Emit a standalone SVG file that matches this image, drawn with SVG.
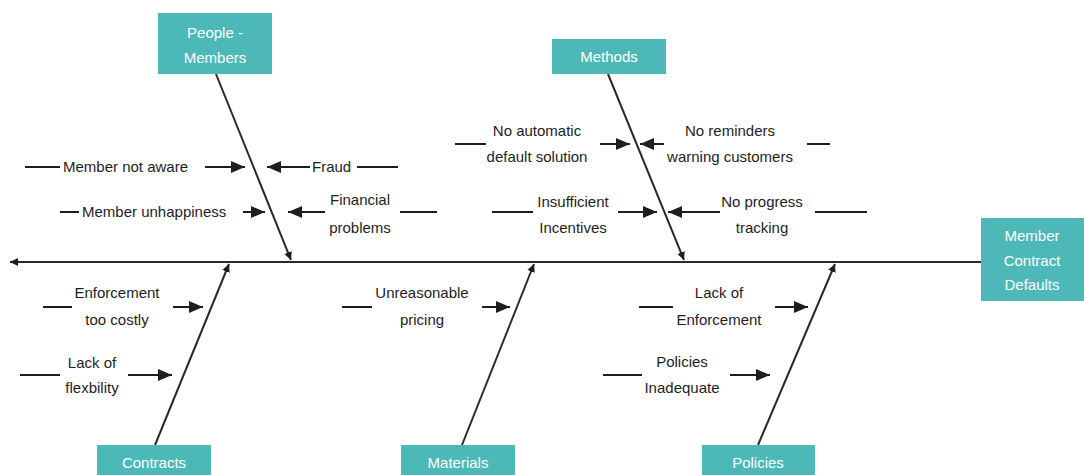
<svg xmlns="http://www.w3.org/2000/svg" width="1084" height="475" viewBox="0 0 1084 475">
<style>
.box{fill:#4cb8b8}
.bt{font-family:"Liberation Sans",Arial,sans-serif;font-size:15px;fill:#ffffff;text-anchor:middle}
.lt{font-family:"Liberation Sans",Arial,sans-serif;font-size:15px;fill:#1e1e1e}
.m{text-anchor:middle}
.ln{stroke:#1e1e1e;stroke-width:2;fill:none}
.ar{stroke:#1e1e1e;stroke-width:2;fill:none;marker-end:url(#arr)}
.bone{stroke:#2a2a2a;stroke-width:2;fill:none;marker-end:url(#sm)}
</style>
<defs>
<marker id="arr" markerUnits="userSpaceOnUse" markerWidth="16" markerHeight="12" refX="14" refY="6" orient="auto">
<path d="M0,0 L14,6 L0,12 Z" fill="#1e1e1e"/>
</marker>
<marker id="sm" markerUnits="userSpaceOnUse" markerWidth="10" markerHeight="8" refX="8" refY="4" orient="auto">
<path d="M0,0 L8,4 L0,8 Z" fill="#1e1e1e"/>
</marker>
</defs>
<rect width="1084" height="475" fill="#ffffff"/>

<g id="connectors">
<line class="bone" x1="981" y1="262" x2="10" y2="262"/>
<line class="bone" x1="216" y1="74" x2="291" y2="260"/>
<line class="bone" x1="608" y1="74" x2="684" y2="260"/>
<line class="bone" x1="155" y1="445" x2="229" y2="264"/>
<line class="bone" x1="462" y1="445" x2="534" y2="264"/>
<line class="bone" x1="758" y1="445" x2="835" y2="264"/>
</g>

<g id="people">
<rect class="box" x="158" y="13" width="114" height="61"/>
<text class="bt" x="215" y="38">People -</text>
<text class="bt" x="215" y="63">Members</text>
</g>
<g id="methods">
<rect class="box" x="552" y="39" width="114" height="35"/>
<text class="bt" x="609" y="62">Methods</text>
</g>
<g id="effect">
<rect class="box" x="981" y="218" width="103" height="83"/>
<text class="bt" x="1032" y="241">Member</text>
<text class="bt" x="1032" y="266">Contract</text>
<text class="bt" x="1032" y="290">Defaults</text>
</g>
<g id="contracts">
<rect class="box" x="97" y="445" width="114" height="35"/>
<text class="bt" x="154" y="468">Contracts</text>
</g>
<g id="materials">
<rect class="box" x="401" y="445" width="114" height="35"/>
<text class="bt" x="458" y="468">Materials</text>
</g>
<g id="policies">
<rect class="box" x="702" y="445" width="113" height="35"/>
<text class="bt" x="758" y="468">Policies</text>
</g>

<g id="cause-member-not-aware">
<line class="ln" x1="25" y1="167" x2="60" y2="167"/>
<text class="lt" x="63" y="172">Member not aware</text>
<line class="ar" x1="205" y1="167" x2="245" y2="167"/>
</g>
<g id="cause-fraud">
<line class="ar" x1="310" y1="167" x2="267" y2="167"/>
<text class="lt" x="312" y="172">Fraud</text>
<line class="ln" x1="357" y1="167" x2="398" y2="167"/>
</g>
<g id="cause-member-unhappiness">
<line class="ln" x1="60" y1="212" x2="79" y2="212"/>
<text class="lt" x="82" y="217">Member unhappiness</text>
<line class="ar" x1="243" y1="212" x2="265" y2="212"/>
</g>
<g id="cause-financial">
<line class="ar" x1="325" y1="212" x2="288" y2="212"/>
<text class="lt m" x="360" y="205">Financial</text>
<text class="lt m" x="360" y="233">problems</text>
<line class="ln" x1="400" y1="212" x2="437" y2="212"/>
</g>

<g id="cause-no-automatic">
<line class="ln" x1="455" y1="144" x2="486" y2="144"/>
<text class="lt m" x="537" y="136">No automatic</text>
<text class="lt m" x="537" y="162">default solution</text>
<line class="ar" x1="600" y1="144" x2="630" y2="144"/>
</g>
<g id="cause-no-reminders">
<line class="ar" x1="664" y1="144" x2="640" y2="144"/>
<text class="lt m" x="730" y="136">No reminders</text>
<text class="lt m" x="730" y="162">warning customers</text>
<line class="ln" x1="807" y1="144" x2="830" y2="144"/>
</g>
<g id="cause-insufficient">
<line class="ln" x1="492" y1="212" x2="533" y2="212"/>
<text class="lt m" x="573" y="207">Insufficient</text>
<text class="lt m" x="573" y="233">Incentives</text>
<line class="ar" x1="618" y1="212" x2="657" y2="212"/>
</g>
<g id="cause-no-progress">
<line class="ar" x1="720" y1="212" x2="668" y2="212"/>
<text class="lt m" x="762" y="207">No progress</text>
<text class="lt m" x="762" y="233">tracking</text>
<line class="ln" x1="815" y1="212" x2="867" y2="212"/>
</g>

<g id="cause-enforcement-costly">
<line class="ln" x1="43" y1="307" x2="72" y2="307"/>
<text class="lt m" x="117" y="298">Enforcement</text>
<text class="lt m" x="117" y="325">too costly</text>
<line class="ar" x1="173" y1="307" x2="203" y2="307"/>
</g>
<g id="cause-lack-flexibility">
<line class="ln" x1="20" y1="375" x2="60" y2="375"/>
<text class="lt m" x="92" y="368">Lack of</text>
<text class="lt m" x="92" y="393">flexbility</text>
<line class="ar" x1="128" y1="375" x2="172" y2="375"/>
</g>
<g id="cause-unreasonable-pricing">
<line class="ln" x1="342" y1="307" x2="372" y2="307"/>
<text class="lt m" x="422" y="298">Unreasonable</text>
<text class="lt m" x="422" y="325">pricing</text>
<line class="ar" x1="482" y1="307" x2="510" y2="307"/>
</g>
<g id="cause-lack-enforcement">
<line class="ln" x1="639" y1="307" x2="673" y2="307"/>
<text class="lt m" x="719" y="298">Lack of</text>
<text class="lt m" x="719" y="325">Enforcement</text>
<line class="ar" x1="775" y1="307" x2="808" y2="307"/>
</g>
<g id="cause-policies-inadequate">
<line class="ln" x1="603" y1="375" x2="642" y2="375"/>
<text class="lt m" x="682" y="367">Policies</text>
<text class="lt m" x="682" y="393">Inadequate</text>
<line class="ar" x1="730" y1="375" x2="770" y2="375"/>
</g>
</svg>
